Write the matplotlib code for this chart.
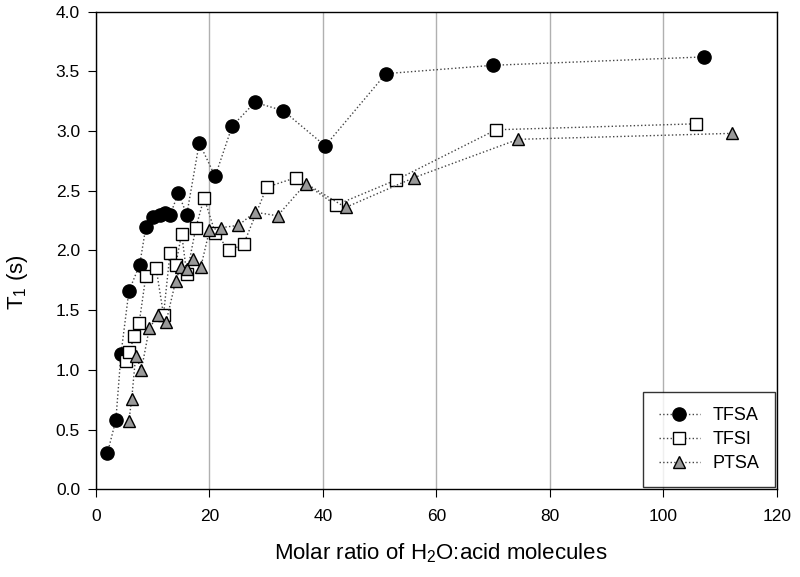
import matplotlib
matplotlib.use("Agg")
import matplotlib.pyplot as plt

plt.rcParams['font.family'] = ['Liberation Sans', 'DejaVu Sans']
plt.rcParams['mathtext.default'] = 'regular'

# TFSA (filled circles)
tfsa_x = [2.0, 3.5, 4.4, 5.8, 7.7, 8.8, 10.1, 11.3, 12.2, 13.1, 14.5, 16.0, 18.2, 21.0,
          24.0, 28.0, 33.0, 40.4, 51.1, 70.0, 107.1]
tfsa_y = [0.30, 0.58, 1.13, 1.66, 1.88, 2.20, 2.28, 2.30, 2.31, 2.30, 2.48, 2.30, 2.90, 2.62,
          3.04, 3.24, 3.17, 2.875, 3.48, 3.55, 3.62]

# TFSI (open squares)
tfsi_x = [5.3, 5.9, 6.7, 7.6, 8.8, 10.6, 11.9, 13.05, 14.05, 15.1, 16.0, 17.6, 19.05, 21.0,
          23.5, 26.0, 30.1, 35.3, 42.3, 52.9, 70.5, 105.8]
tfsi_y = [1.07, 1.15, 1.28, 1.39, 1.79, 1.85, 1.46, 1.98, 1.88, 2.14, 1.80, 2.19, 2.44, 2.15,
          2.00, 2.05, 2.53, 2.61, 2.38, 2.59, 3.01, 3.06]

# PTSA (grey triangles)
ptsa_x = [5.8, 6.3, 7.0, 8.0, 9.4, 11.0, 12.35, 14.05, 14.9, 16.1, 17.05, 18.5, 20.0, 22.0,
          25.1, 28.0, 32.0, 37.0, 44.0, 56.1, 74.4, 112.1]
ptsa_y = [0.57, 0.76, 1.12, 1.00, 1.35, 1.46, 1.40, 1.745, 1.86, 1.845, 1.93, 1.865, 2.17, 2.19,
          2.21, 2.32, 2.29, 2.56, 2.36, 2.61, 2.93, 2.98]

fig = plt.figure(figsize=(8, 5.77), dpi=100)
ax = fig.add_axes([0.12, 0.152, 0.851, 0.828])

line_kw = dict(linestyle=':', color='#444444', linewidth=1.0, markeredgecolor='black',
               markeredgewidth=1.0)
ax.plot(tfsa_x, tfsa_y, marker='o', markersize=9.5, markerfacecolor='black', label='TFSA', **line_kw)
ax.plot(tfsi_x, tfsi_y, marker='s', markersize=8.5, markerfacecolor='white', label='TFSI', **line_kw)
ax.plot(ptsa_x, ptsa_y, marker='^', markersize=9, markerfacecolor='#999999', label='PTSA', **line_kw)

ax.set_xlim(0, 120)
ax.set_ylim(0, 4.0)
ax.set_xticks(range(0, 121, 20))
ax.set_yticks([i * 0.5 for i in range(9)])
ax.set_yticklabels(['%.1f' % (i * 0.5) for i in range(9)])
ax.xaxis.grid(True, color='#b0b0b0', linewidth=1.0)
ax.set_axisbelow(True)
ax.tick_params(direction='out', labelsize=12.5, length=5.5)
ax.tick_params(axis='x', pad=9)
ax.tick_params(axis='y', pad=6)
for s in ax.spines.values():
    s.set_linewidth(1.0)

ax.set_xlabel('Molar ratio of H$_2$O:acid molecules', fontsize=16, va='center')
ax.xaxis.set_label_coords(0.507, -0.133)
ax.set_ylabel('T$_1$ (s)', fontsize=16, va='center')
ax.yaxis.set_label_coords(-0.116, 0.434)

leg = ax.legend(loc='lower right', fontsize=13, frameon=True, fancybox=False,
                edgecolor='black', borderpad=0.85, labelspacing=0.38, handlelength=2.3,
                handletextpad=0.7, borderaxespad=0.1)
leg.get_frame().set_linewidth(1.0)

fig.savefig('out.png', dpi=100)
